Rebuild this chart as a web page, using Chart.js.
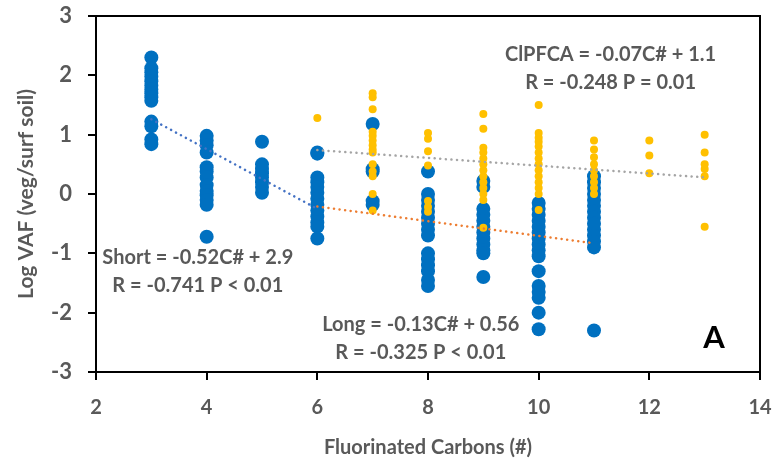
<!DOCTYPE html>
<html>
<head>
<meta charset="utf-8">
<script src="https://cdn.jsdelivr.net/npm/chart.js@4.4.1/dist/chart.umd.min.js"></script>
<style>
  html, body { margin: 0; padding: 0; background: #fff; }
  #wrap { width: 778px; height: 460px; }
</style>
</head>
<body>
<div id="wrap"><canvas id="chart"></canvas></div>
<script>
// carbon numbers and log VAF values
var carbons = [3, 4, 5, 6, 7, 8, 9, 10, 11, 12, 13];

// PFCA (blue)
var pfcaVAF = [
    [2.3, 2.12, 2.05, 1.98, 1.9, 1.83, 1.76, 1.7, 1.63, 1.57, 1.22, 1.14, 0.92, 0.84],
    [0.98, 0.9, 0.82, 0.7, 0.45, 0.38, 0.28, 0.15, 0.05, -0.02, -0.1, -0.18, -0.72],
    [0.88, 0.5, 0.42, 0.35, 0.28, 0.2, 0.12, 0.02],
    [0.7, 0.68, 0.28, 0.2, 0.12, 0.02, -0.08, -0.18, -0.28, -0.38, -0.48, -0.55, -0.75],
    [1.18, 0.42, 0.38, -0.12, -0.18],
    [0.38, 0.0, -0.1, -0.2, -0.3, -0.4, -0.5, -0.6, -0.7, -1.0, -1.1, -1.2, -1.3, -1.45, -1.55],
    [0.22, 0.12, -0.25, -0.35, -0.45, -0.55, -0.65, -0.75, -0.85, -0.95, -1.0, -1.4],
    [-0.15, -0.25, -0.35, -0.45, -0.55, -0.65, -0.75, -0.85, -0.95, -1.05, -1.3, -1.55, -1.65, -1.75, -2.0, -2.28],
    [0.3, 0.2, 0.1, 0.0, -0.1, -0.2, -0.3, -0.4, -0.5, -0.6, -0.7, -0.8, -0.9, -2.3],
    [],
    []
];

// ClPFCA (yellow)
var clpfcaVAF = [
    [],
    [],
    [],
    [1.28],
    [1.7, 1.63, 1.43, 1.05, 0.98, 0.9, 0.82, 0.75, 0.7, 0.5, 0.38, 0.3, 0.0, -0.28],
    [1.03, 0.93, 0.72, 0.48, -0.12, -0.22, -0.3],
    [1.35, 1.1, 0.78, 0.7, 0.6, 0.5, 0.4, 0.3, 0.2, 0.1, 0.0, -0.1, -0.57],
    [1.5, 1.03, 0.95, 0.88, 0.8, 0.7, 0.6, 0.5, 0.4, 0.3, 0.2, 0.1, 0.0, -0.27],
    [0.9, 0.75, 0.62, 0.5, 0.4, 0.3, 0.2, 0.1, 0.0],
    [0.9, 0.65, 0.35],
    [1.0, 0.7, 0.5, 0.42, 0.3, -0.55]
];

// trend line end points
var shortTrend = [{x: 3, y: 1.26}, {x: 6, y: -0.25}];
var longTrend = [{x: 6, y: -0.21}, {x: 11, y: -0.83}];
var clpfcaTrend = [{x: 6, y: 0.74}, {x: 13, y: 0.28}];

var annotations = [
    {x: 11.3, y: 2.12, lines: ["ClPFCA = -0.07C# + 1.1", "R = -0.248 P = 0.01"]},
    {x: 3.84, y: -1.31, lines: ["Short = -0.52C# + 2.9", "R = -0.741 P < 0.01"]},
    {x: 7.87, y: -2.43, lines: ["Long = -0.13C# + 0.56", "R = -0.325 P < 0.01"]}
];

function toPoints(values) {
    var pts = [];
    for (var i = 0; i < carbons.length; i++) {
        for (var j = 0; j < values[i].length; j++) {
            pts.push({x: carbons[i], y: values[i][j]});
        }
    }
    return pts;
}

var textGrey = "#595959";
var fontName = "Lato, 'Open Sans', sans-serif";

var frame = {
    id: "frame",
    afterDraw: function(chart) {
        var c = chart.ctx, a = chart.chartArea;
        var xs = chart.scales.x, ys = chart.scales.y;
        c.save();
        c.strokeStyle = "#000";
        c.lineWidth = 2;
        c.strokeRect(a.left, a.top, a.right - a.left, a.bottom - a.top);

        c.fillStyle = textGrey;
        c.font = "bold 20px " + fontName;
        c.textAlign = "center";
        c.textBaseline = "middle";
        annotations.forEach(function(n) {
            var px = xs.getPixelForValue(n.x);
            var py = ys.getPixelForValue(n.y);
            c.fillText(n.lines[0], px, py - 14);
            c.fillText(n.lines[1], px, py + 14);
        });

        c.fillStyle = "#000";
        c.font = "bold 31px " + fontName;
        c.fillText("A", xs.getPixelForValue(13.17), ys.getPixelForValue(-2.43));
        c.restore();
    }
};

var dotted = {
    showLine: true,
    fill: false,
    borderWidth: 2.5,
    borderDash: [0.1, 5.5],
    borderCapStyle: "round",
    pointRadius: 0
};

var ctx = document.getElementById("chart").getContext("2d");
var chart = new Chart(ctx, {
    type: "scatter",
    data: {
        datasets: [
            Object.assign({label: "Short", data: shortTrend, borderColor: "#4472C4"}, dotted),
            Object.assign({label: "Long", data: longTrend, borderColor: "#ED7D31"}, dotted),
            Object.assign({label: "ClPFCA trend", data: clpfcaTrend, borderColor: "#A5A5A5"}, dotted),
            {
                label: "ClPFCA",
                data: toPoints(clpfcaVAF),
                backgroundColor: "#FFC000",
                borderWidth: 0,
                pointRadius: 4
            },
            {
                label: "PFCA",
                data: toPoints(pfcaVAF),
                backgroundColor: "#0070C0",
                borderWidth: 0,
                pointRadius: 7
            }
        ]
    },
    options: {
        responsive: true,
        maintainAspectRatio: false,
        animation: false,
        layout: { padding: { top: 16, right: 18, left: 0, bottom: 0 } },
        plugins: {
            legend: { display: false },
            tooltip: { enabled: false }
        },
        scales: {
            x: {
                type: "linear",
                min: 2,
                max: 14,
                ticks: { stepSize: 2, color: textGrey, padding: 16, font: { family: fontName, size: 20, weight: "bold" } },
                grid: { drawOnChartArea: false, drawTicks: true, tickLength: 8, color: "#000", lineWidth: 2 },
                border: { display: true, color: "#000", width: 2 },
                title: {
                    display: true,
                    text: "Fluorinated Carbons (#)",
                    color: textGrey,
                    padding: { top: 8, bottom: 0 },
                    font: { family: fontName, size: 20, weight: "bold" }
                },
                afterFit: function(scale) {
                    scale.height = 88;
                    scale.paddingLeft = 0;
                    scale.paddingRight = 0;
                }
            },
            y: {
                min: -3,
                max: 3,
                ticks: { stepSize: 1, color: textGrey, padding: 16, font: { family: fontName, size: 22, weight: "bold" } },
                grid: { drawOnChartArea: false, drawTicks: true, tickLength: 8, color: "#000", lineWidth: 2 },
                border: { display: true, color: "#000", width: 2 },
                title: {
                    display: true,
                    text: "Log VAF (veg/surf soil)",
                    color: textGrey,
                    padding: { top: 14, bottom: 0 },
                    font: { family: fontName, size: 21, weight: "bold" }
                },
                afterFit: function(scale) {
                    scale.width = 96;
                    scale.paddingTop = 0;
                    scale.paddingBottom = 0;
                }
            }
        }
    },
    plugins: [frame]
});
</script>
</body>
</html>
